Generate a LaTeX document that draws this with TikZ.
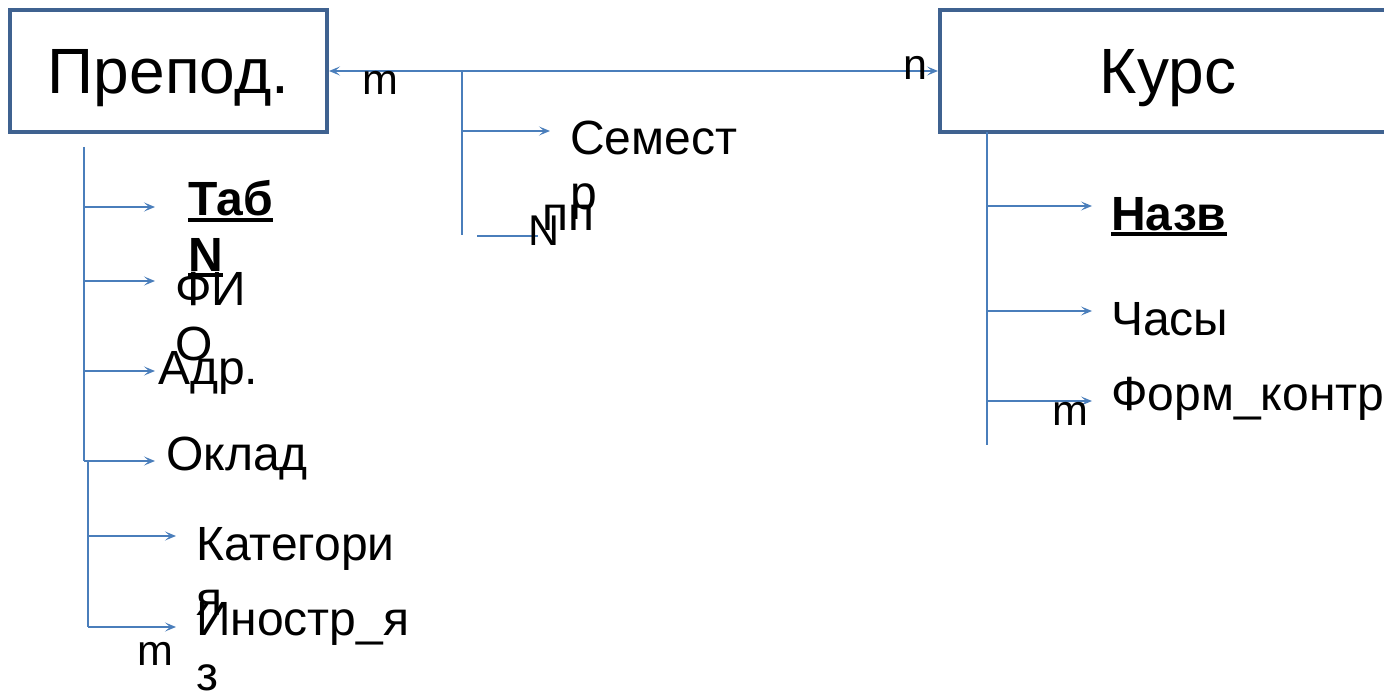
\documentclass[tikz,border=0pt]{standalone}
\usepackage{fontspec}
\setmainfont{Liberation Sans}
\usetikzlibrary{arrows.meta}
\definecolor{boxc}{HTML}{3F6290}
\definecolor{linec}{HTML}{4A7EBB}
\newcommand{\myul}[1]{\setbox0=\hbox{#1}\rlap{\rule[-0.12em]{\wd0}{0.07em}}\box0}
\tikzset{
  ent/.style={draw=boxc, line width=4pt, inner sep=0pt, minimum height=122pt,
    text height=46pt, text depth=0pt, font=\fontsize{64}{70}\selectfont},
  lnk/.style={draw=linec, line width=1.8pt},
  tip/.tip={Stealth[length=11pt,width=9pt,inset=5pt]},
  arr/.style={lnk, -tip},
  attr/.style={anchor=base west, inner sep=0pt, font=\fontsize{48}{55}\selectfont},
  lbl/.style={anchor=base west, inner sep=0pt, font=\fontsize{43}{50}\selectfont}
}
\begin{document}
\begin{tikzpicture}[x=1pt,y=-1pt]
\useasboundingbox (0,0) rectangle (1384,695);
\clip (0,0) rectangle (1384,695);
% entities
\node[ent, minimum width=317pt] (prep) at (168.5,71) {Препод.};
\node[ent, minimum width=456pt] (kurs) at (1168,71) {Курс};
% relationship line
\draw[lnk, tip-tip] (prep.east) -- (kurs.west);
% relation attributes
\coordinate (rtop) at (462,71);
\coordinate (rsem) at (462,131);
\coordinate (rbot) at (462,235);
\coordinate (rsemE) at (550,131);
\coordinate (rnS) at (477,236);
\coordinate (rnE) at (538,236);
\draw[lnk] (rtop) -- (rbot);
\draw[arr] (rsem) -- (rsemE);
\draw[lnk] (rnS) -- (rnE);
\node[lbl] (m1) at (362,95) {m};
\node[lbl] (n1) at (903,80) {n};
\node[attr] (sem) at (570,155) {\vtop{\hbox{Семест}\hbox{р}}};
\node[attr] (pp) at (542,230) {пп};
\node[lbl] (nn) at (528,245) {N};
% Prepod attributes
\coordinate (pt0) at (84,147);
\coordinate (pt1) at (84,207);
\coordinate (pt2) at (84,281);
\coordinate (pt3) at (84,371);
\coordinate (pt4) at (84,461);
\coordinate (pe1) at (155,207);
\coordinate (pe2) at (155,281);
\coordinate (pe3) at (155,371);
\coordinate (pe4) at (155,461);
\coordinate (ps0) at (88,461);
\coordinate (ps1) at (88,536);
\coordinate (ps2) at (88,627);
\coordinate (pf1) at (176,536);
\coordinate (pf2) at (176,627);
\draw[lnk] (pt0) -- (pt4);
\draw[arr] (pt1) -- (pe1);
\draw[arr] (pt2) -- (pe2);
\draw[arr] (pt3) -- (pe3);
\draw[arr] (pt4) -- (pe4);
\draw[lnk] (ps0) -- (ps2);
\draw[arr] (ps1) -- (pf1);
\draw[arr] (ps2) -- (pf2);
\node[attr] (tab) at (188,216) {\bfseries\vtop{\hbox{\myul{Таб}}\hbox{\myul{N}}}};
\node[attr] (fio) at (175,305) {\vtop{\hbox{ФИ}\hbox{О}}};
\node[attr] (adr) at (158,384) {Адр.};
\node[attr] (okl) at (166,470) {Оклад};
\node[attr] (kat) at (196,560) {\vtop{\hbox{Категори}\hbox{я}}};
\node[attr] (ino) at (196,635) {\vtop{\hbox{Иностр\_я}\hbox{з}}};
\node[lbl] (m2) at (137,665) {m};
% Kurs attributes
\coordinate (kt0) at (987,132);
\coordinate (kt1) at (987,206);
\coordinate (kt2) at (987,311);
\coordinate (kt3) at (987,401);
\coordinate (kt4) at (987,445);
\coordinate (ke1) at (1092,206);
\coordinate (ke2) at (1092,311);
\coordinate (ke3) at (1092,401);
\draw[lnk] (kt0) -- (kt4);
\draw[arr] (kt1) -- (ke1);
\draw[arr] (kt2) -- (ke2);
\draw[arr] (kt3) -- (ke3);
\node[attr] (nazv) at (1111,230) {\bfseries\myul{Назв}};
\node[attr] (chas) at (1111,335) {Часы};
\node[attr] (form) at (1111,410) {Форм\_контр};
\node[lbl] (m3) at (1052,425) {m};
\end{tikzpicture}
\end{document}
